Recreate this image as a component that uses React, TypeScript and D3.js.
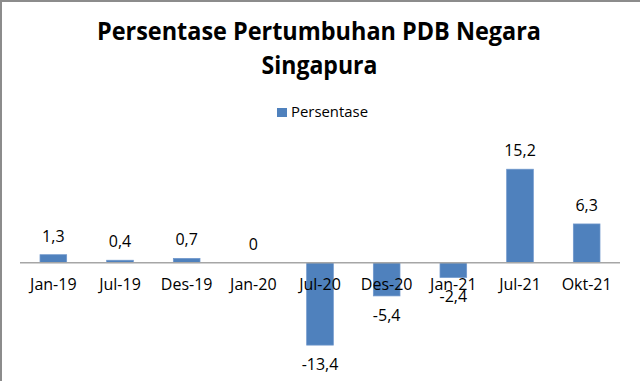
import React from "react";
import * as d3 from "d3";

const categories = ["Jan-19", "Jul-19", "Des-19", "Jan-20", "Jul-20", "Des-20", "Jan-21", "Jul-21", "Okt-21"];
const values = [1.3, 0.4, 0.7, 0, -13.4, -5.4, -2.4, 15.2, 6.3];
const titleLines = ["Persentase Pertumbuhan PDB Negara", "Singapura"];
const seriesName = "Persentase";

const W = 640;
const H = 381;
const FONT = "'Open Sans', 'Noto Sans', sans-serif";
const BLUE = "#4f81bd";

export default function App() {
  const x = d3.scaleBand<string>().domain(categories).range([20, 620]).paddingInner(0.6).paddingOuter(0.3);
  const y = d3.scaleLinear().domain([-16, 20]).range([361.1, 139.7]);
  const fmt = (v: number) => d3.format(".1~f")(v).replace(".", ",").replace("\u2212", "-");
  const y0 = y(0);
  const bw = x.bandwidth();
  return (
    <svg width={W} height={H} style={{ position: "absolute", left: 0, top: 0, background: "#fff" }} fontFamily={FONT}>
      <rect x={0} y={0} width={W} height={H} fill="#fff" />
      <line x1={0} y1={1} x2={W} y2={1} stroke="#8c8c8c" strokeWidth={2} />
      <line x1={1} y1={0} x2={1} y2={H} stroke="#8c8c8c" strokeWidth={2} />
      <text x={319} y={39.5} textAnchor="middle" fontSize={25} fontWeight="bold" textLength={444} lengthAdjust="spacingAndGlyphs" fill="#000">{titleLines[0]}</text>
      <text x={319.5} y={73.5} textAnchor="middle" fontSize={25} fontWeight="bold" textLength={116} lengthAdjust="spacingAndGlyphs" fill="#000">{titleLines[1]}</text>
      <rect x={277} y={108} width={10} height={9} fill={BLUE} />
      <text x={291} y={116.7} fontSize={15} fill="#000" textLength={77} lengthAdjust="spacingAndGlyphs">{seriesName}</text>
      {categories.map((c, i) => {
        const v = values[i];
        const top = v >= 0 ? y(v) : y0;
        const h = Math.abs(y(v) - y0);
        return (
          <g key={c}>
            {v !== 0 && <rect x={x(c)} y={top} width={bw} height={h} fill={BLUE} stroke="#6f97cc" strokeWidth={0.75} />}
          </g>
        );
      })}
      <line x1={20} y1={y0} x2={620} y2={y0} stroke="#a6a6a6" strokeWidth={1.5} />
      {categories.map((c, i) => {
        const v = values[i];
        const cx = (x(c) as number) + bw / 2;
        const ly = v >= 0 ? y(v) - 13 : y(v) + 25;
        return (
          <g key={c + "t"}>
            <text x={cx} y={290} textAnchor="middle" fontSize={16} fill="#000">{c}</text>
            <text x={cx} y={ly} textAnchor="middle" fontSize={16} fill="#000">{fmt(v)}</text>
          </g>
        );
      })}
    </svg>
  );
}
